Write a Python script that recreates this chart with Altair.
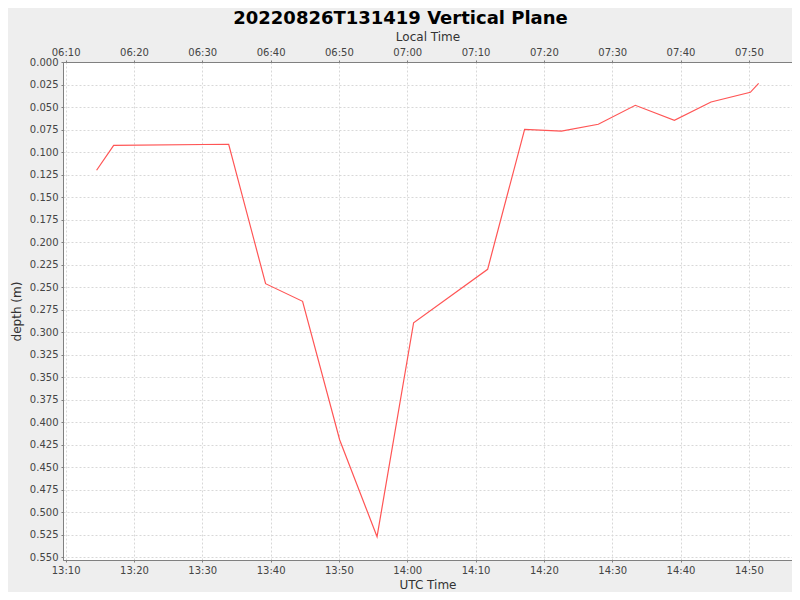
import altair as alt
import pandas as pd

DATE = "2022-08-26"
utc_times = ["13:14:32", "13:17:02", "13:33:52", "13:39:16", "13:44:41", "13:50:07",
             "13:55:35", "14:00:56", "14:11:46", "14:17:11", "14:22:34", "14:27:58",
             "14:33:23", "14:39:06", "14:44:28", "14:50:13", "14:51:26"]
depths = [0.1203, 0.0926, 0.0914, 0.2463, 0.2659, 0.4200,
          0.5274, 0.2897, 0.2303, 0.0748, 0.0767, 0.0692,
          0.0481, 0.0648, 0.0444, 0.0337, 0.0237]
y_ticks = [round(i * 0.025, 3) for i in range(23)]
utc_tick_times = ["13:10", "13:20", "13:30", "13:40", "13:50", "14:00", "14:10",
                  "14:20", "14:30", "14:40", "14:50"]
utc_range = ["13:09:37", "14:56:19"]
LOCAL_OFFSET_H = -7


def ms(t, shift_h=0):
    ts = pd.Timestamp(f"{DATE}T{t}", tz="UTC") + pd.Timedelta(hours=shift_h)
    return int(ts.value // 1_000_000)


df = pd.DataFrame({
    "utc": [ms(t) for t in utc_times],
    "local": [ms(t, LOCAL_OFFSET_H) for t in utc_times],
    "depth": depths,
})

utc_domain = [ms(t) for t in utc_range]
local_domain = [ms(t, LOCAL_OFFSET_H) for t in utc_range]
utc_vals = [ms(t) for t in utc_tick_times]
local_vals = [ms(t, LOCAL_OFFSET_H) for t in utc_tick_times]

FONT = "DejaVu Sans"
LBL = "#444444"
AX = "#808080"
GRID = "#D8D8D8"

yscale = alt.Scale(domain=[0, 0.5533], reverse=True, nice=False, zero=False)
yaxis = alt.Axis(title="depth (m)", values=y_ticks, format=".3f", grid=True,
                 gridColor=GRID, gridDash=[2, 2], tickSize=2, labelPadding=3,
                 labelOverlap=False, labelFlush=False,
                 domainColor=AX, tickColor=AX, labelColor=LBL, titleColor="#333333",
                 labelFont=FONT, labelFontSize=10, titleFont=FONT, titleFontSize=12,
                 titleFontWeight="normal", titlePadding=6)

line = alt.Chart(df).mark_line(color="#FF5555", strokeWidth=1.2).encode(
    x=alt.X("utc:T", scale=alt.Scale(type="utc", domain=utc_domain, nice=False),
            axis=alt.Axis(title="UTC Time", orient="bottom", format="%H:%M",
                          values=utc_vals, labelOverlap=False,
                          grid=True, gridColor=GRID, gridDash=[2, 2],
                          tickSize=2, labelPadding=3, domainColor=AX, tickColor=AX,
                          labelColor=LBL, titleColor="#333333", labelFont=FONT,
                          labelFontSize=10, titleFont=FONT, titleFontSize=12,
                          titleFontWeight="normal", titlePadding=4, labelFlush=False)),
    y=alt.Y("depth:Q", scale=yscale, axis=yaxis),
)

top = alt.Chart(df).mark_line(opacity=0).encode(
    x=alt.X("local:T", scale=alt.Scale(type="utc", domain=local_domain, nice=False),
            axis=alt.Axis(title="Local Time", orient="top", format="%H:%M",
                          values=local_vals, labelOverlap=False,
                          grid=False, tickSize=2, labelPadding=3, domainColor=AX,
                          tickColor=AX, labelColor=LBL, titleColor="#333333",
                          labelFont=FONT, labelFontSize=10, titleFont=FONT,
                          titleFontSize=12, titleFontWeight="normal", titlePadding=4,
                          labelFlush=False)),
    y=alt.Y("depth:Q", scale=yscale, axis=yaxis),
)

chart = alt.layer(line, top).resolve_scale(x="independent").properties(
    width=729, height=498,
    title=alt.TitleParams("20220826T131419 Vertical Plane", font=FONT, fontSize=18,
                          fontWeight="bold", color="black", anchor="middle",
                          frame="group", dx=-27, offset=2),
    autosize=alt.AutoSizeParams(type="none"),
    padding={"left": 55, "top": 54, "right": 0, "bottom": 32},
    background="#EEEEEE",
).configure_view(fill="white", stroke="#888888", strokeWidth=1
).configure_axisY(labelOverlap=False)

chart.save("out.html", embed_options={"renderer": "svg", "actions": False})
